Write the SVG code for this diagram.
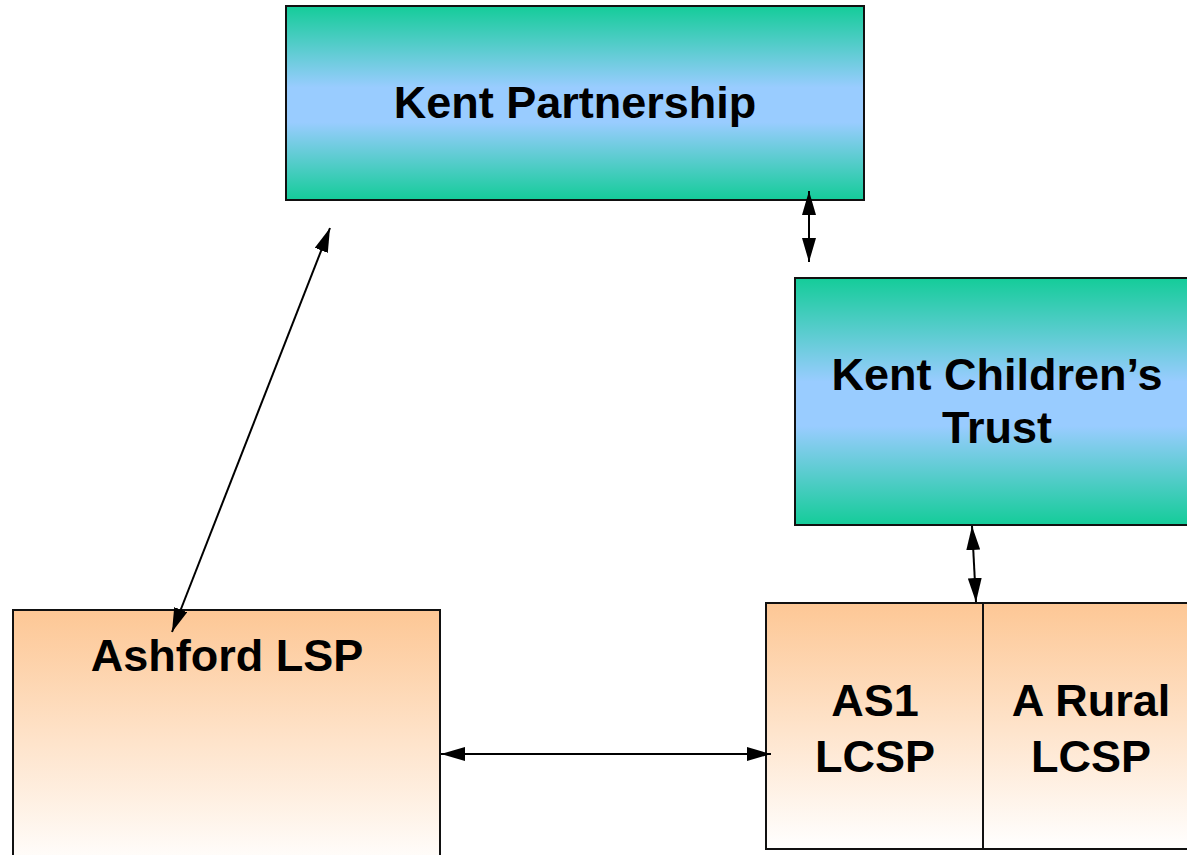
<svg xmlns="http://www.w3.org/2000/svg" width="1187" height="855" viewBox="0 0 1187 855">
<defs>
<linearGradient id="gBlue" x1="0" y1="0" x2="0" y2="1">
<stop offset="0" stop-color="#14cc99"/>
<stop offset="0.42" stop-color="#99ccff"/>
<stop offset="0.6" stop-color="#99ccff"/>
<stop offset="1" stop-color="#14cc99"/>
</linearGradient>
<linearGradient id="gOrange" x1="0" y1="0" x2="0" y2="1">
<stop offset="0" stop-color="#fdc795"/>
<stop offset="1" stop-color="#ffffff"/>
</linearGradient>
<marker id="ah" viewBox="0 0 24 14" refX="24" refY="7" markerWidth="24" markerHeight="14" markerUnits="userSpaceOnUse" orient="auto-start-reverse">
<path d="M0,0 L24,7 L0,14 Z" fill="#000"/>
</marker>
</defs>
<style>
.box{stroke:#111;stroke-width:2}
.lbl{font-family:"Liberation Sans",Arial,sans-serif;font-weight:bold;font-size:45px;fill:#000;text-anchor:middle}
.con{stroke:#000;stroke-width:2;fill:none;marker-start:url(#ah);marker-end:url(#ah)}
</style>
<rect width="1187" height="855" fill="#fff"/>
<g id="kent-partnership">
<rect class="box" x="286" y="6" width="578" height="194" fill="url(#gBlue)"/>
<text class="lbl" x="575" y="118">Kent Partnership</text>
</g>
<g id="kent-childrens-trust">
<rect class="box" x="795" y="278" width="400" height="247" fill="url(#gBlue)"/>
<text class="lbl" x="997" y="390">Kent Children’s</text>
<text class="lbl" x="997" y="443">Trust</text>
</g>
<g id="ashford-lsp">
<rect class="box" x="13" y="610" width="427" height="260" fill="url(#gOrange)"/>
<text class="lbl" x="227" y="671">Ashford LSP</text>
</g>
<g id="as1-lcsp">
<rect class="box" x="766" y="603" width="217" height="246" fill="url(#gOrange)"/>
<text class="lbl" x="875" y="716">AS1</text>
<text class="lbl" x="875" y="772">LCSP</text>
</g>
<g id="a-rural-lcsp">
<rect class="box" x="983" y="603" width="215" height="246" fill="url(#gOrange)"/>
<text class="lbl" x="1091" y="716">A Rural</text>
<text class="lbl" x="1091" y="772">LCSP</text>
</g>
<g id="connectors">
<line class="con" x1="809" y1="191" x2="809" y2="262"/>
<line class="con" x1="972" y1="526" x2="976" y2="602"/>
<line class="con" x1="330" y1="228" x2="172" y2="632"/>
<line class="con" x1="441" y1="754" x2="771" y2="754"/>
</g>
</svg>
